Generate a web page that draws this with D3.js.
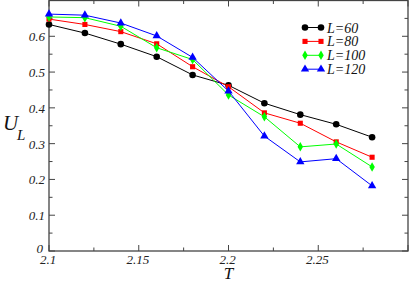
<!DOCTYPE html>
<html><head><meta charset="utf-8">
<script src="https://cdn.jsdelivr.net/npm/d3@7"></script>
<style>body{margin:0;background:#fff}svg{display:block}</style>
</head><body>
<svg id="c" width="409" height="283"></svg>
<script>
const temps = [2.1, 2.12, 2.14, 2.16, 2.18, 2.2, 2.22, 2.24, 2.26, 2.28];
const L60  = [0.633, 0.609, 0.578, 0.543, 0.492, 0.463, 0.413, 0.381, 0.354, 0.318];
const L80  = [0.648, 0.633, 0.613, 0.579, 0.515, 0.459, 0.386, 0.357, 0.305, 0.262];
const L100 = [0.654, 0.652, 0.628, 0.568, 0.535, 0.436, 0.375, 0.291, 0.299, 0.235];
const L120 = [0.662, 0.659, 0.637, 0.601, 0.541, 0.447, 0.321, 0.249, 0.258, 0.182];
const seriesNames = ["L=60", "L=80", "L=100", "L=120"];
const xTicks = [2.1, 2.15, 2.2, 2.25];
const yTicks = [0, 0.1, 0.2, 0.3, 0.4, 0.5, 0.6];

const colors = ["#000000", "#ff0000", "#00ff00", "#0000ff"];
const shapes = [d3.symbolCircle, d3.symbolSquare, d3.symbolDiamond, d3.symbolTriangle];
const sizes = [34, 26, 26, 30];
const allSeries = [L60, L80, L100, L120];

const svg = d3.select("#c");
const pL = 49, pR = 408, pT = 0.5, pB = 251;
const x = d3.scaleLinear().domain([2.1, 2.3]).range([pL, pR]);
const y = d3.scaleLinear().domain([0, 0.7]).range([pB, pT]);
const FF = '"Liberation Serif"';
function txt(sel, size, fill) {
  return sel.style("font-family", FF).style("font-style", "italic").style("font-size", size + "px").attr("fill", fill || "#111");
}

// frame ticks (inward)
const g = svg.append("g");
const minorX = d3.range(0, 9).map(i => 2.1 + i * 0.025);
const minorY = d3.range(0, 15).map(i => i * 0.05);
const tickC = "#444";
minorX.forEach((v, i) => {
  const len = (i % 2 === 0) ? 6 : 3.5;
  g.append("line").attr("x1", x(v)).attr("x2", x(v)).attr("y1", pB).attr("y2", pB - len).attr("stroke", tickC);
  g.append("line").attr("x1", x(v)).attr("x2", x(v)).attr("y1", pT).attr("y2", pT + len).attr("stroke", tickC);
});
minorY.forEach((v, i) => {
  const len = (i % 2 === 0) ? 6 : 3.5;
  g.append("line").attr("x1", pL).attr("x2", pL + len).attr("y1", y(v)).attr("y2", y(v)).attr("stroke", tickC);
  g.append("line").attr("x1", pR).attr("x2", pR - len).attr("y1", y(v)).attr("y2", y(v)).attr("stroke", tickC);
});
g.append("rect").attr("x", pL).attr("y", pT).attr("width", pR - pL).attr("height", pB - pT)
  .attr("fill", "none").attr("stroke", "#444").attr("stroke-width", 1.3);

// tick labels
txt(svg.append("g").selectAll("text").data(xTicks).join("text"), 13, "#222")
  .attr("x", d => x(d) - 1).attr("y", 264).attr("text-anchor", "middle")
  .text(d => d3.format("")(d));
txt(svg.append("g").selectAll("text").data(yTicks).join("text"), 13, "#222")
  .attr("x", d => d === 0 ? 43 : 45).attr("y", d => d === 0 ? y(d) + 1.5 : y(d) + 5).attr("text-anchor", "end")
  .text(d => d3.format("")(d));

// axis titles
txt(svg.append("text"), 21).attr("x", 3).attr("y", 130).text("U");
txt(svg.append("text"), 15).attr("x", 17).attr("y", 140).text("L");
txt(svg.append("text"), 17).attr("x", 228.5).attr("y", 279).attr("text-anchor", "middle").text("T");

// series
const line = d3.line().x((d, i) => x(temps[i])).y(d => y(d));
allSeries.forEach((s, k) => {
  const sg = svg.append("g");
  sg.append("path").attr("d", line(s)).attr("fill", "none").attr("stroke", colors[k]).attr("stroke-width", 1);
  sg.selectAll("path.m").data(s).join("path").attr("class", "m")
    .attr("transform", (d, i) => `translate(${x(temps[i])},${y(d)})`)
    .attr("d", d3.symbol().type(shapes[k]).size(sizes[k])).attr("fill", colors[k]);
});

// legend
const lg = svg.append("g");
seriesNames.forEach((n, k) => {
  const yy = 27.5 + k * 13.9;
  lg.append("line").attr("x1", 305).attr("x2", 321).attr("y1", yy).attr("y2", yy).attr("stroke", colors[k]).attr("stroke-width", 1);
  [305, 321].forEach(xx => lg.append("path").attr("transform", `translate(${xx},${yy})`)
    .attr("d", d3.symbol().type(shapes[k]).size(sizes[k])).attr("fill", colors[k]));
  txt(lg.append("text"), 14).attr("x", 327).attr("y", yy + 5).text(n);
});
</script>
</body></html>
